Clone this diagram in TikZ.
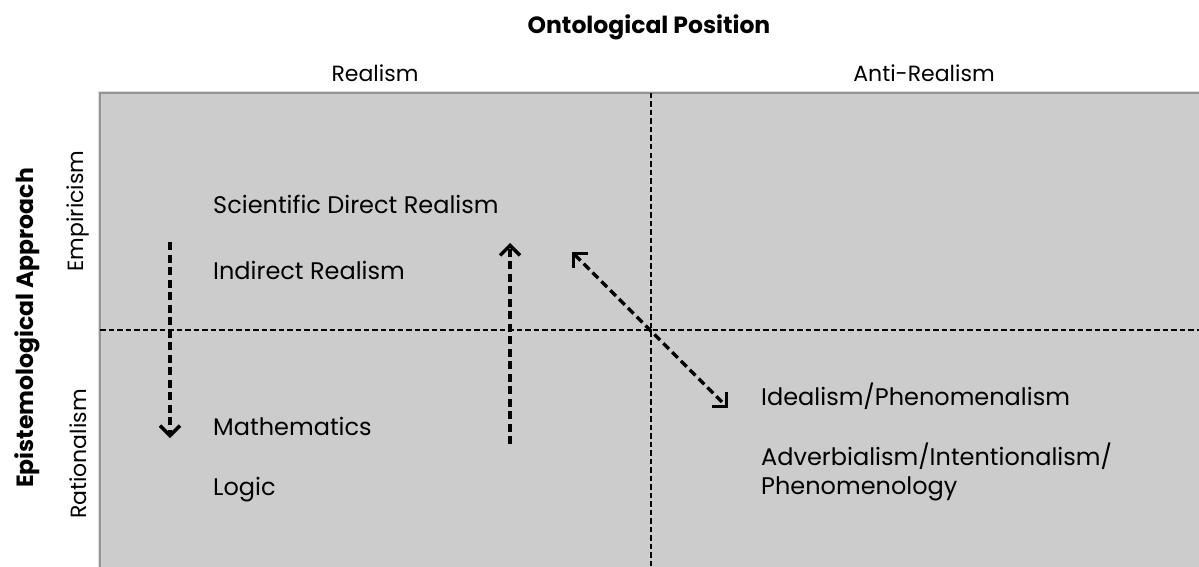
\documentclass[tikz,border=0pt]{standalone}
\usepackage{fontspec}
\setmainfont{Poppins}
\usetikzlibrary{arrows.meta}
\begin{document}
\begin{tikzpicture}[x=1pt,y=-1pt,
  gridline/.style={black, line width=1.6pt, dash pattern=on 5.5pt off 3pt},
  barb/.tip={Straight Barb[length=10pt,width=20pt,line width=3.4pt]},
  flowarrow/.style={black, line width=3.4pt, dash pattern=on 8pt off 4.5pt, -barb},
  twoway/.style={black, line width=3.4pt, dash pattern=on 8pt off 4.5pt, barb-barb},
  item/.style={anchor=west, font=\fontsize{24}{29}\selectfont, inner sep=0pt},
  head/.style={font=\fontsize{22}{26}\selectfont, inner sep=0pt},
  side/.style={font=\fontsize{22}{26}\selectfont, inner sep=0pt, rotate=90},
  title/.style={font=\bfseries\fontsize{23.5}{28}\selectfont, inner sep=0pt}
]
\useasboundingbox (0,0) rectangle (1199,567);
\fill[white] (0,0) rectangle (1199,567);

% quadrant field
\fill[black!25, opacity=0.5] (98,91) rectangle (1202,570);
\filldraw[fill=black!20, draw=black!42, line width=1.5pt] (100,93) rectangle (1205,575);

% axes through the centre
\coordinate (left) at (100,330);
\coordinate (right) at (1199,330);
\coordinate (top) at (651,93);
\coordinate (bottom) at (651,567);
\draw[gridline] (left) -- (right);
\draw[gridline] (top) -- (bottom);

% headings
\node[title] (onto) at (649,27) {Ontological Position};
\node[head] (real) at (375,73) {Realism};
\node[head] (anti) at (924,73) {Anti-Realism};
\node[title, rotate=90] (epis) at (27,328) {Epistemological Approach};
\node[side] (emp) at (78,211) {Empiricism};
\node[side] (rat) at (78,454) {Rationalism};

% positions
\node[item] (sdr) at (213,204) {Scientific Direct Realism};
\node[item] (ir) at (213,270) {Indirect Realism};
\node[item] (math) at (213,426) {Mathematics};
\node[item] (logic) at (213,490) {Logic};
\node[item] (ideal) at (761,396) {Idealism/Phenomenalism};
\node[item, align=left] (adv) at (761,472) {Adverbialism/Intentionalism/\\Phenomenology};

% movements between positions
\coordinate (d1) at (170,242);
\coordinate (d2) at (170,438);
\coordinate (u1) at (510,444);
\coordinate (u2) at (510,243);
\coordinate (t1) at (572,252);
\coordinate (t2) at (728,408);
\draw[flowarrow] (d1) -- (d2);
\draw[flowarrow] (u1) -- (u2);
\draw[twoway] (t1) -- (t2);
\end{tikzpicture}
\end{document}
